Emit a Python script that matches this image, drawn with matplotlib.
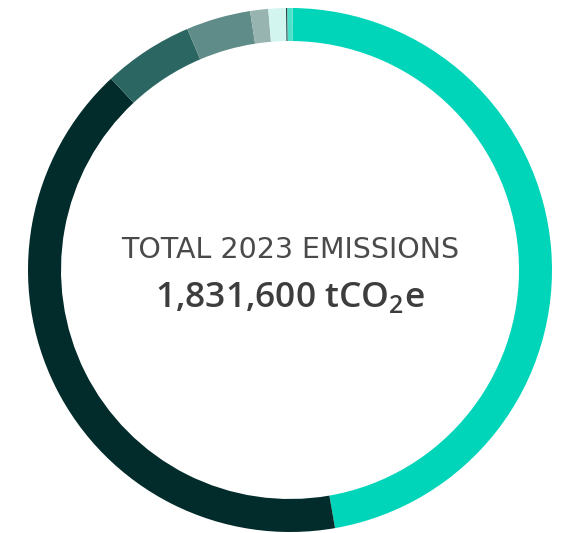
import matplotlib.pyplot as plt

labels = ['Scope A', 'Scope B', 'Scope C', 'Scope D', 'Scope E', 'Scope F', 'Scope G', 'Scope H']
values = [862400, 746900, 101800, 72800, 20400, 19800, 1500, 6000]
colors = ['#00D4B9', '#022B2B', '#2C6662', '#5F8C88', '#97B4B1', '#D2F5EF', '#1A3A3A', '#4FE0C9']
total_label = 'TOTAL 2023 EMISSIONS'
total_value = '1,831,600 tCO$_\\mathregular{2}$e'

W, H = 562, 533
fig = plt.figure(figsize=(W / 100, H / 100), dpi=100)

# ring centre and radius in pixels
cx, cy, r = 290, 533 - 270, 262
ax = fig.add_axes([(cx - r) / W, (cy - r) / H, 2 * r / W, 2 * r / H])

ax.pie(values, colors=colors, startangle=89.4, counterclock=False,
       radius=1, wedgeprops=dict(width=0.126, linewidth=0))
ax.set_xlim(-1, 1)
ax.set_ylim(-1, 1)
ax.set_aspect('equal')
ax.axis('off')

ax.text(0, 0.046, total_label, ha='center', va='baseline', fontsize=20.5,
        family='DejaVu Sans', fontweight='normal', color='#4a4a4a')
ax.text(0, -0.141, total_value, ha='center', va='baseline', fontsize=25.5,
        family='Open Sans', fontweight='semibold', color='#3d3d3d')

fig.savefig('out.png', dpi=100)
